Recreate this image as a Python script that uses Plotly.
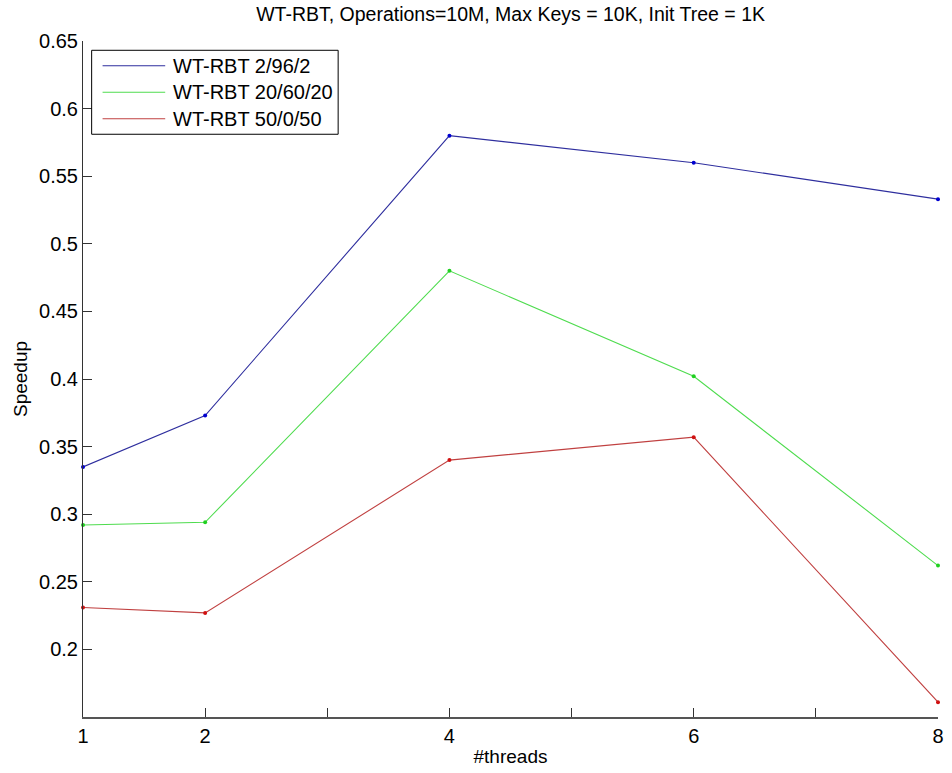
import plotly.graph_objects as go

# Thread counts and measured speedups for each operation mix
threads = [1, 2, 4, 6, 8]
speedup_2_96_2 = [0.335, 0.373, 0.580, 0.560, 0.533]
speedup_20_60_20 = [0.292, 0.294, 0.480, 0.402, 0.262]
speedup_50_0_50 = [0.231, 0.227, 0.340, 0.357, 0.161]

series_names = ["WT-RBT 2/96/2", "WT-RBT 20/60/20", "WT-RBT 50/0/50"]
line_colors = ["#2e2e9e", "#4fdc4f", "#c04040"]
marker_colors = ["#0000d0", "#20d020", "#d01010"]

x_tickvals = [1, 2, 3, 4, 5, 6, 7, 8]
x_ticktext = ["1", "2", "", "4", "", "6", "", "8"]
y_tickvals = [0.2, 0.25, 0.3, 0.35, 0.4, 0.45, 0.5, 0.55, 0.6, 0.65]
y_ticktext = ["0.2", "0.25", "0.3", "0.35", "0.4", "0.45", "0.5", "0.55", "0.6", "0.65"]

W, H = 952, 773
L, R, T, B = 83.3, 8.5, 40.7, 56
FONT = "Liberation Sans, Arial, sans-serif"

fig = go.Figure()
for name, ys, lc, mc in zip(series_names,
                            [speedup_2_96_2, speedup_20_60_20, speedup_50_0_50],
                            line_colors, marker_colors):
    fig.add_trace(go.Scatter(
        x=threads, y=ys, name=name, mode="lines+markers",
        line=dict(color=lc, width=1.1),
        marker=dict(color=mc, size=4),
        showlegend=False, cliponaxis=False,
    ))

# Pixel -> paper helpers for the boxed legend in the upper-left corner
pw, ph = W - L - R, H - T - B
def px(x):
    return (x - L) / pw
def py(y):
    return (H - B - y) / ph

shapes = [dict(type="rect", xref="paper", yref="paper",
               x0=px(92), x1=px(340), y0=py(134), y1=py(50),
               line=dict(color="black", width=1), fillcolor="white", layer="above")]
annotations = []
row_y = [65.5, 92, 118.5]
for name, lc, ry in zip(series_names, line_colors, row_y):
    shapes.append(dict(type="line", xref="paper", yref="paper",
                       x0=px(103), x1=px(166), y0=py(ry), y1=py(ry),
                       line=dict(color=lc, width=1.1), layer="above"))
    annotations.append(dict(xref="paper", yref="paper", x=px(172), y=py(ry),
                            xanchor="left", yanchor="middle", showarrow=False,
                            text=name, font=dict(family=FONT, size=20, color="black")))

fig.update_layout(
    width=W, height=H,
    margin=dict(l=L, r=R, t=T, b=B, pad=0),
    paper_bgcolor="white", plot_bgcolor="white",
    font=dict(family=FONT, size=20, color="black"),
    title=dict(text="WT-RBT, Operations=10M, Max Keys = 10K, Init Tree = 1K",
               x=px(513.5), xref="paper", xanchor="center",
               y=1 - 14 / H, yref="container", yanchor="middle",
               font=dict(family=FONT, size=19.5, color="black")),
    xaxis=dict(range=[1, 8], tickvals=x_tickvals, ticktext=x_ticktext,
               ticks="inside", ticklen=9, tickcolor="#333333", tickwidth=1,
               showline=True, linecolor="#555555", linewidth=1.5,
               showgrid=False, zeroline=False,
               tickfont=dict(family=FONT, size=20),
               title=dict(text="#threads", font=dict(family=FONT, size=19), standoff=4)),
    yaxis=dict(range=[0.15, 0.65], tickvals=y_tickvals, ticktext=y_ticktext,
               ticks="inside", ticklen=9, tickcolor="#333333", tickwidth=1,
               showline=True, linecolor="#333333", linewidth=1,
               showgrid=False, zeroline=False,
               tickfont=dict(family=FONT, size=20),
               title=dict(text="Speedup", font=dict(family=FONT, size=19), standoff=6)),
    shapes=shapes, annotations=annotations,
)

fig.write_html("out.html")
